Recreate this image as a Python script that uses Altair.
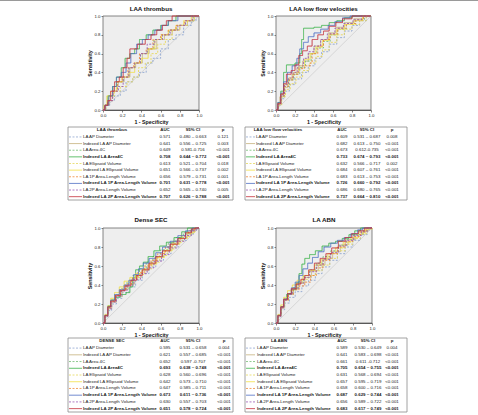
import altair as alt
import pandas as pd

FONT = "Liberation Sans"
W, H = 478, 415

# ---- series shared by all four panels -------------------------------------
SERIES = [
    "LA AP Diameter",
    "Indexed LA AP Diameter",
    "LA Area 4C",
    "Indexed LA Area4C",
    "LA Ellipsoid Volume",
    "Indexed LA Ellipsoid Volume",
    "LA 1P Area-Length Volume",
    "Indexed LA 1P Area-Length Volume",
    "LA 2P Area-Length Volume",
    "Indexed LA 2P Area-Length Volume",
]
SERIES_COLORS = ["#8fa6d0", "#c6b27c", "#72bd72", "#3bb34a", "#e6d85c",
                 "#f2df45", "#f08a3a", "#4f6fc4", "#9b5bb5", "#c4303b"]
SERIES_DASH = [[2, 1.5], [1, 0], [2, 1.5], [1, 0], [2, 1.5],
               [1, 0], [2, 1.5], [1, 0], [2, 1.5], [1, 0]]
BOLD_ROWS = [0, 0, 0, 1, 0, 0, 0, 1, 0, 1]
AXIS_TICKS = [0.0, 0.2, 0.4, 0.6, 0.8, 1.0]

# ---- ROC step vertices [1 - specificity, sensitivity] ----------------------
THROMBUS_CURVES = {
    "LA AP Diameter": [[0, 0], [0.03, 0.05], [0.07, 0.1], [0.12, 0.15], [0.18, 0.2], [0.24, 0.3], [0.31, 0.35], [0.38, 0.4], [0.45, 0.5], [0.52, 0.55], [0.6, 0.65], [0.68, 0.75], [0.76, 0.8], [0.84, 0.9], [0.92, 0.95], [0.97, 1], [1, 1]],
    "Indexed LA AP Diameter": [[0, 0], [0.02, 0.05], [0.06, 0.15], [0.11, 0.25], [0.16, 0.3], [0.22, 0.35], [0.28, 0.45], [0.34, 0.5], [0.41, 0.6], [0.48, 0.65], [0.56, 0.75], [0.64, 0.8], [0.72, 0.85], [0.8, 0.9], [0.88, 0.95], [0.95, 1], [1, 1]],
    "LA Area 4C": [[0, 0], [0.02, 0.05], [0.05, 0.1], [0.1, 0.2], [0.15, 0.3], [0.21, 0.35], [0.27, 0.45], [0.33, 0.5], [0.39, 0.6], [0.46, 0.65], [0.53, 0.75], [0.61, 0.8], [0.69, 0.85], [0.77, 0.9], [0.86, 0.95], [0.94, 1], [1, 1]],
    "Indexed LA Area4C": [[0, 0], [0.02, 0.05], [0.05, 0.15], [0.1, 0.25], [0.14, 0.35], [0.19, 0.45], [0.23, 0.55], [0.28, 0.6], [0.33, 0.65], [0.38, 0.75], [0.45, 0.8], [0.52, 0.85], [0.6, 0.9], [0.68, 0.95], [0.76, 1], [1, 1]],
    "LA Ellipsoid Volume": [[0, 0], [0.03, 0.05], [0.06, 0.15], [0.12, 0.2], [0.18, 0.25], [0.25, 0.3], [0.31, 0.35], [0.37, 0.45], [0.44, 0.5], [0.5, 0.6], [0.57, 0.7], [0.65, 0.75], [0.72, 0.85], [0.8, 0.9], [0.88, 0.95], [0.95, 1], [1, 1]],
    "Indexed LA Ellipsoid Volume": [[0, 0], [0.01, 0.05], [0.04, 0.15], [0.08, 0.2], [0.14, 0.3], [0.2, 0.35], [0.27, 0.4], [0.33, 0.5], [0.4, 0.55], [0.47, 0.65], [0.54, 0.75], [0.61, 0.8], [0.68, 0.85], [0.76, 0.9], [0.84, 0.95], [0.92, 1], [1, 1]],
    "LA 1P Area-Length Volume": [[0, 0], [0.02, 0.05], [0.06, 0.1], [0.1, 0.2], [0.15, 0.3], [0.2, 0.35], [0.26, 0.45], [0.32, 0.5], [0.38, 0.6], [0.45, 0.65], [0.52, 0.75], [0.6, 0.8], [0.68, 0.85], [0.76, 0.9], [0.85, 0.95], [0.93, 1], [1, 1]],
    "Indexed LA 1P Area-Length Volume": [[0, 0], [0.02, 0.05], [0.06, 0.15], [0.1, 0.25], [0.14, 0.35], [0.19, 0.4], [0.24, 0.5], [0.29, 0.6], [0.35, 0.7], [0.41, 0.75], [0.47, 0.8], [0.54, 0.85], [0.61, 0.9], [0.68, 0.95], [0.78, 1], [1, 1]],
    "LA 2P Area-Length Volume": [[0, 0], [0.02, 0.05], [0.05, 0.1], [0.1, 0.2], [0.16, 0.25], [0.21, 0.35], [0.27, 0.45], [0.33, 0.5], [0.39, 0.6], [0.46, 0.7], [0.54, 0.75], [0.62, 0.8], [0.7, 0.85], [0.78, 0.9], [0.86, 0.95], [0.93, 1], [1, 1]],
    "Indexed LA 2P Area-Length Volume": [[0, 0], [0.02, 0.05], [0.05, 0.1], [0.08, 0.2], [0.12, 0.3], [0.17, 0.35], [0.21, 0.45], [0.25, 0.55], [0.28, 0.65], [0.36, 0.7], [0.44, 0.75], [0.5, 0.8], [0.56, 0.85], [0.62, 0.9], [0.66, 0.95], [0.72, 1], [1, 1]],
}
LOWFLOW_CURVES = {
    "LA AP Diameter": [[0, 0], [0.02, 0.05], [0.05, 0.12], [0.09, 0.2], [0.14, 0.27], [0.2, 0.33], [0.27, 0.4], [0.34, 0.47], [0.41, 0.55], [0.48, 0.62], [0.56, 0.7], [0.64, 0.77], [0.72, 0.84], [0.8, 0.9], [0.88, 0.95], [0.95, 1], [1, 1]],
    "Indexed LA AP Diameter": [[0, 0], [0.02, 0.06], [0.04, 0.14], [0.08, 0.24], [0.12, 0.32], [0.17, 0.38], [0.22, 0.45], [0.28, 0.52], [0.34, 0.6], [0.4, 0.68], [0.47, 0.75], [0.55, 0.82], [0.63, 0.88], [0.72, 0.93], [0.82, 0.97], [0.92, 1], [1, 1]],
    "LA Area 4C": [[0, 0], [0.02, 0.06], [0.05, 0.15], [0.09, 0.25], [0.14, 0.32], [0.19, 0.38], [0.25, 0.45], [0.31, 0.52], [0.37, 0.6], [0.43, 0.66], [0.5, 0.73], [0.57, 0.8], [0.65, 0.86], [0.74, 0.92], [0.84, 0.96], [0.93, 1], [1, 1]],
    "Indexed LA Area4C": [[0, 0], [0.02, 0.08], [0.05, 0.2], [0.08, 0.4], [0.11, 0.48], [0.2, 0.5], [0.25, 0.6], [0.27, 0.75], [0.29, 0.87], [0.4, 0.88], [0.48, 0.9], [0.56, 0.93], [0.64, 0.95], [0.72, 0.98], [0.8, 1], [1, 1]],
    "LA Ellipsoid Volume": [[0, 0], [0.02, 0.05], [0.06, 0.14], [0.1, 0.22], [0.15, 0.28], [0.21, 0.35], [0.28, 0.42], [0.35, 0.5], [0.42, 0.57], [0.49, 0.64], [0.56, 0.72], [0.64, 0.8], [0.72, 0.86], [0.8, 0.91], [0.88, 0.95], [0.95, 1], [1, 1]],
    "Indexed LA Ellipsoid Volume": [[0, 0], [0.02, 0.07], [0.05, 0.17], [0.09, 0.27], [0.13, 0.34], [0.18, 0.4], [0.24, 0.47], [0.3, 0.54], [0.36, 0.6], [0.42, 0.67], [0.49, 0.74], [0.56, 0.8], [0.64, 0.86], [0.72, 0.91], [0.82, 0.95], [0.91, 1], [1, 1]],
    "LA 1P Area-Length Volume": [[0, 0], [0.02, 0.06], [0.05, 0.15], [0.09, 0.25], [0.13, 0.32], [0.18, 0.38], [0.24, 0.44], [0.3, 0.47], [0.36, 0.5], [0.38, 0.6], [0.44, 0.68], [0.5, 0.75], [0.57, 0.81], [0.65, 0.87], [0.74, 0.92], [0.84, 0.96], [0.92, 1], [1, 1]],
    "Indexed LA 1P Area-Length Volume": [[0, 0], [0.02, 0.08], [0.05, 0.18], [0.08, 0.3], [0.12, 0.4], [0.17, 0.47], [0.22, 0.55], [0.25, 0.65], [0.29, 0.72], [0.34, 0.78], [0.4, 0.82], [0.47, 0.86], [0.55, 0.9], [0.62, 0.94], [0.7, 0.98], [0.78, 1], [1, 1]],
    "LA 2P Area-Length Volume": [[0, 0], [0.02, 0.06], [0.05, 0.16], [0.09, 0.27], [0.13, 0.34], [0.18, 0.4], [0.23, 0.47], [0.29, 0.55], [0.34, 0.62], [0.4, 0.68], [0.47, 0.75], [0.54, 0.81], [0.62, 0.87], [0.71, 0.92], [0.81, 0.96], [0.9, 1], [1, 1]],
    "Indexed LA 2P Area-Length Volume": [[0, 0], [0.02, 0.07], [0.05, 0.17], [0.08, 0.28], [0.11, 0.38], [0.16, 0.42], [0.2, 0.48], [0.24, 0.58], [0.28, 0.63], [0.33, 0.68], [0.38, 0.75], [0.44, 0.8], [0.5, 0.84], [0.56, 0.89], [0.63, 0.93], [0.7, 0.97], [0.8, 1], [1, 1]],
}
DENSE_CURVES = {
    "LA AP Diameter": [[0, 0], [0.02, 0.06], [0.05, 0.13], [0.09, 0.2], [0.14, 0.26], [0.2, 0.32], [0.27, 0.38], [0.34, 0.45], [0.41, 0.52], [0.48, 0.59], [0.55, 0.66], [0.63, 0.73], [0.71, 0.8], [0.79, 0.87], [0.87, 0.93], [0.94, 0.98], [0.98, 1], [1, 1]],
    "Indexed LA AP Diameter": [[0, 0], [0.02, 0.07], [0.05, 0.15], [0.09, 0.22], [0.14, 0.28], [0.2, 0.35], [0.26, 0.41], [0.33, 0.48], [0.4, 0.55], [0.47, 0.62], [0.54, 0.69], [0.62, 0.76], [0.7, 0.83], [0.78, 0.89], [0.86, 0.94], [0.93, 0.98], [0.97, 1], [1, 1]],
    "LA Area 4C": [[0, 0], [0.02, 0.08], [0.05, 0.17], [0.08, 0.24], [0.13, 0.3], [0.19, 0.36], [0.25, 0.43], [0.31, 0.5], [0.38, 0.57], [0.45, 0.64], [0.52, 0.7], [0.6, 0.77], [0.68, 0.84], [0.76, 0.9], [0.84, 0.95], [0.92, 0.99], [0.96, 1], [1, 1]],
    "Indexed LA Area4C": [[0, 0], [0.02, 0.08], [0.05, 0.18], [0.08, 0.24], [0.12, 0.27], [0.18, 0.3], [0.24, 0.32], [0.28, 0.38], [0.31, 0.48], [0.34, 0.56], [0.38, 0.6], [0.42, 0.64], [0.47, 0.7], [0.53, 0.76], [0.59, 0.81], [0.66, 0.85], [0.74, 0.9], [0.82, 0.96], [0.88, 1], [1, 1]],
    "LA Ellipsoid Volume": [[0, 0], [0.02, 0.08], [0.05, 0.16], [0.09, 0.24], [0.13, 0.3], [0.18, 0.36], [0.24, 0.41], [0.3, 0.46], [0.37, 0.51], [0.44, 0.57], [0.51, 0.64], [0.59, 0.71], [0.67, 0.78], [0.75, 0.85], [0.83, 0.91], [0.91, 0.96], [0.96, 1], [1, 1]],
    "Indexed LA Ellipsoid Volume": [[0, 0], [0.02, 0.09], [0.05, 0.18], [0.08, 0.26], [0.12, 0.32], [0.17, 0.38], [0.22, 0.44], [0.28, 0.48], [0.34, 0.52], [0.41, 0.57], [0.48, 0.62], [0.56, 0.69], [0.64, 0.76], [0.72, 0.83], [0.8, 0.89], [0.88, 0.95], [0.95, 1], [1, 1]],
    "LA 1P Area-Length Volume": [[0, 0], [0.02, 0.07], [0.05, 0.16], [0.08, 0.23], [0.13, 0.29], [0.18, 0.35], [0.24, 0.41], [0.3, 0.47], [0.36, 0.53], [0.43, 0.6], [0.5, 0.66], [0.57, 0.73], [0.65, 0.8], [0.73, 0.86], [0.81, 0.92], [0.89, 0.97], [0.95, 1], [1, 1]],
    "Indexed LA 1P Area-Length Volume": [[0, 0], [0.02, 0.08], [0.05, 0.17], [0.08, 0.24], [0.12, 0.3], [0.17, 0.35], [0.22, 0.4], [0.27, 0.45], [0.32, 0.51], [0.37, 0.57], [0.42, 0.63], [0.48, 0.68], [0.55, 0.74], [0.62, 0.8], [0.7, 0.86], [0.78, 0.92], [0.86, 0.97], [0.93, 1], [1, 1]],
    "LA 2P Area-Length Volume": [[0, 0], [0.02, 0.07], [0.05, 0.15], [0.09, 0.22], [0.14, 0.28], [0.19, 0.34], [0.25, 0.4], [0.32, 0.46], [0.39, 0.52], [0.46, 0.58], [0.53, 0.65], [0.61, 0.72], [0.69, 0.79], [0.77, 0.86], [0.85, 0.92], [0.92, 0.97], [0.97, 1], [1, 1]],
    "Indexed LA 2P Area-Length Volume": [[0, 0], [0.02, 0.08], [0.05, 0.17], [0.08, 0.23], [0.13, 0.29], [0.18, 0.34], [0.23, 0.39], [0.29, 0.45], [0.35, 0.5], [0.41, 0.56], [0.48, 0.63], [0.55, 0.7], [0.62, 0.76], [0.7, 0.83], [0.78, 0.89], [0.86, 0.95], [0.92, 0.99], [0.96, 1], [1, 1]],
}
ABN_CURVES = {
    "LA AP Diameter": [[0, 0], [0.02, 0.06], [0.05, 0.14], [0.09, 0.21], [0.14, 0.27], [0.2, 0.33], [0.27, 0.39], [0.34, 0.45], [0.41, 0.52], [0.48, 0.59], [0.56, 0.66], [0.64, 0.73], [0.72, 0.8], [0.8, 0.87], [0.88, 0.93], [0.95, 0.98], [0.98, 1], [1, 1]],
    "Indexed LA AP Diameter": [[0, 0], [0.02, 0.07], [0.05, 0.16], [0.09, 0.24], [0.13, 0.3], [0.18, 0.36], [0.24, 0.42], [0.3, 0.48], [0.37, 0.55], [0.44, 0.61], [0.51, 0.68], [0.59, 0.75], [0.67, 0.82], [0.75, 0.88], [0.83, 0.93], [0.91, 0.97], [0.96, 1], [1, 1]],
    "LA Area 4C": [[0, 0], [0.02, 0.08], [0.05, 0.17], [0.08, 0.25], [0.13, 0.31], [0.18, 0.37], [0.23, 0.43], [0.29, 0.5], [0.35, 0.56], [0.42, 0.63], [0.49, 0.7], [0.57, 0.76], [0.65, 0.82], [0.73, 0.88], [0.81, 0.93], [0.9, 0.97], [0.95, 1], [1, 1]],
    "Indexed LA Area4C": [[0, 0], [0.02, 0.08], [0.05, 0.17], [0.08, 0.25], [0.11, 0.3], [0.16, 0.35], [0.21, 0.42], [0.24, 0.52], [0.27, 0.62], [0.3, 0.68], [0.35, 0.72], [0.41, 0.76], [0.48, 0.81], [0.55, 0.84], [0.62, 0.86], [0.69, 0.89], [0.76, 0.93], [0.82, 0.97], [0.88, 1], [1, 1]],
    "LA Ellipsoid Volume": [[0, 0], [0.02, 0.08], [0.05, 0.17], [0.08, 0.25], [0.12, 0.31], [0.17, 0.37], [0.22, 0.42], [0.28, 0.46], [0.34, 0.5], [0.41, 0.55], [0.48, 0.61], [0.56, 0.68], [0.64, 0.76], [0.72, 0.83], [0.8, 0.89], [0.88, 0.94], [0.95, 0.99], [1, 1]],
    "Indexed LA Ellipsoid Volume": [[0, 0], [0.02, 0.09], [0.05, 0.19], [0.08, 0.27], [0.12, 0.34], [0.17, 0.4], [0.22, 0.45], [0.28, 0.5], [0.34, 0.55], [0.4, 0.61], [0.47, 0.67], [0.54, 0.73], [0.62, 0.79], [0.7, 0.85], [0.78, 0.9], [0.86, 0.95], [0.93, 0.99], [1, 1]],
    "LA 1P Area-Length Volume": [[0, 0], [0.02, 0.07], [0.05, 0.16], [0.08, 0.24], [0.13, 0.3], [0.18, 0.35], [0.24, 0.39], [0.3, 0.43], [0.36, 0.5], [0.42, 0.58], [0.49, 0.66], [0.56, 0.73], [0.64, 0.8], [0.72, 0.86], [0.8, 0.91], [0.88, 0.96], [0.94, 1], [1, 1]],
    "Indexed LA 1P Area-Length Volume": [[0, 0], [0.02, 0.08], [0.05, 0.17], [0.08, 0.25], [0.12, 0.31], [0.16, 0.37], [0.2, 0.43], [0.24, 0.5], [0.28, 0.57], [0.33, 0.63], [0.38, 0.69], [0.44, 0.75], [0.5, 0.8], [0.57, 0.84], [0.64, 0.87], [0.71, 0.9], [0.78, 0.94], [0.85, 0.98], [0.9, 1], [1, 1]],
    "LA 2P Area-Length Volume": [[0, 0], [0.02, 0.07], [0.05, 0.16], [0.08, 0.24], [0.12, 0.3], [0.17, 0.36], [0.23, 0.42], [0.29, 0.48], [0.35, 0.54], [0.42, 0.61], [0.49, 0.67], [0.57, 0.74], [0.65, 0.81], [0.73, 0.87], [0.81, 0.92], [0.89, 0.96], [0.95, 1], [1, 1]],
    "Indexed LA 2P Area-Length Volume": [[0, 0], [0.02, 0.08], [0.05, 0.17], [0.08, 0.25], [0.12, 0.31], [0.16, 0.36], [0.21, 0.41], [0.26, 0.46], [0.3, 0.5], [0.34, 0.56], [0.4, 0.63], [0.46, 0.68], [0.52, 0.73], [0.58, 0.79], [0.65, 0.86], [0.72, 0.9], [0.79, 0.94], [0.86, 0.97], [0.92, 1], [1, 1]],
}

# ---- AUC tables ------------------------------------------------------------
THROMBUS_AUC = ["0.571", "0.641", "0.649", "0.708", "0.613", "0.651", "0.656", "0.701", "0.652", "0.707"]
THROMBUS_CI = ["0.480 – 0.663", "0.556 – 0.725", "0.581-0.716", "0.644 – 0.772", "0.521 – 0.704",
               "0.566 – 0.737", "0.579 – 0.731", "0.631 – 0.778", "0.565 – 0.740", "0.626 – 0.788"]
THROMBUS_P = ["0.121", "0.003", "<0.001", "<0.001", "0.018", "0.002", "0.001", "<0.001", "0.005", "<0.001"]

LOWFLOW_AUC = ["0.609", "0.682", "0.673", "0.733", "0.632", "0.684", "0.683", "0.726", "0.686", "0.737"]
LOWFLOW_CI = ["0.531 – 0.687", "0.613 – 0.750", "0.612-0.735", "0.674 – 0.793", "0.566 – 0.717",
              "0.607 – 0.761", "0.613 – 0.753", "0.660 – 0.792", "0.680 – 0.765", "0.664 – 0.810"]
LOWFLOW_P = ["0.008", "<0.001", "<0.001", "<0.001", "0.002", "<0.001", "<0.001", "<0.001", "<0.001", "<0.001"]

DENSE_AUC = ["0.595", "0.621", "0.652", "0.693", "0.628", "0.642", "0.647", "0.673", "0.630", "0.651"]
DENSE_CI = ["0.531 – 0.658", "0.557 – 0.685", "0.597 -0.707", "0.638 – 0.748", "0.560 – 0.696",
            "0.573 – 0.710", "0.585 – 0.711", "0.611 – 0.736", "0.557 – 0.703", "0.578 – 0.724"]
DENSE_P = ["0.004", "<0.001", "<0.001", "<0.001", "<0.001", "<0.001", "<0.001", "<0.001", "<0.001", "<0.001"]

ABN_AUC = ["0.589", "0.641", "0.661", "0.705", "0.631", "0.657", "0.658", "0.687", "0.656", "0.683"]
ABN_CI = ["0.530 – 0.649", "0.583 – 0.698", "0.611 -0.712", "0.654 – 0.755", "0.568 – 0.694",
          "0.595 – 0.719", "0.600 – 0.716", "0.629 – 0.744", "0.589 – 0.722", "0.617 – 0.749"]
ABN_P = ["0.004", "<0.001", "<0.001", "<0.001", "<0.001", "<0.001", "<0.001", "<0.001", "<0.001", "<0.001"]

DUMMY = pd.DataFrame({"v": [0]})
COLOR_SCALE = alt.Scale(domain=SERIES, range=SERIES_COLORS)
DASH_SCALE = alt.Scale(domain=SERIES, range=SERIES_DASH)


def roc_layers(title, curves, box, title_y):
    """Frame, chance diagonal, step ROC curves and a heading for one panel."""
    x0, x1, y0, y1 = box
    xs = alt.Scale(domain=[0, 1], range=[x0, x1], nice=False, zero=False)
    ys = alt.Scale(domain=[0, 1], range=[y1, y0], nice=False, zero=False)
    x_axis = alt.Axis(values=AXIS_TICKS, format=".1f", title="1 - Specificity", orient="bottom",
                      offset=y1 - H, labelFlush=False, labelOverlap=False)
    y_axis = alt.Axis(values=AXIS_TICKS, format=".1f", title="Sensitivity", orient="left",
                      offset=-x0, labelFlush=False, labelOverlap=False)
    rows = []
    for name in SERIES:
        for i, (fx, ty) in enumerate(curves[name]):
            rows.append({"series": name, "i": i, "fpr": fx, "tpr": ty})
    df = pd.DataFrame(rows)

    frame = alt.Chart(pd.DataFrame({"a": [0], "b": [1]})).mark_rect(
        fill="#eeeeee", stroke="#555", strokeWidth=0.7
    ).encode(x=alt.X("a:Q", scale=xs, axis=x_axis), x2="b:Q",
             y=alt.Y("a:Q", scale=ys, axis=y_axis), y2="b:Q")
    diag = alt.Chart(pd.DataFrame({"fpr": [0, 1], "tpr": [0, 1]})).mark_line(
        color="#cfcfcf", strokeWidth=0.8
    ).encode(x=alt.X("fpr:Q", scale=xs, axis=None), y=alt.Y("tpr:Q", scale=ys, axis=None))
    lines = alt.Chart(df).mark_line(interpolate="step-after", strokeWidth=0.9).encode(
        x=alt.X("fpr:Q", scale=xs, axis=None),
        y=alt.Y("tpr:Q", scale=ys, axis=None),
        color=alt.Color("series:N", scale=COLOR_SCALE, legend=None),
        strokeDash=alt.StrokeDash("series:N", scale=DASH_SCALE, legend=None),
        order="i:Q",
    )
    heading = alt.Chart(pd.DataFrame({"label": [title]})).mark_text(
        fontSize=6.2, fontWeight="bold", font=FONT, color="#111111", fill="#111111",
        baseline="middle",
    ).encode(x=alt.value((x0 + x1) / 2), y=alt.value(title_y), text="label:N")
    return [frame, diag, lines, heading]


def table_layers(header, auc, ci, p, box, sample_end, name_x, head_x, auc_x, ci_x, p_x):
    """Bordered AUC table with line-style keys on the left."""
    tx0, tx1, ty0, ty1 = box
    df = pd.DataFrame({
        "row": list(range(1, 11)), "series": SERIES, "name": SERIES,
        "auc": auc, "ci": ci, "p": p, "bold": BOLD_ROWS,
    })
    row_scale = alt.Scale(domain=[-0.5, 10.5], range=[ty0, ty1], nice=False, zero=False)
    y_enc = alt.Y("row:Q", scale=row_scale, axis=None)
    out = [
        alt.Chart(DUMMY).mark_rect(fill="white", stroke="#8a8a8a", strokeWidth=0.8).encode(
            x=alt.value(tx0), x2=alt.value(tx1), y=alt.value(ty0), y2=alt.value(ty1)),
        alt.Chart(df).mark_rule(strokeWidth=0.8).encode(
            x=alt.value(tx0 + 1), x2=alt.value(sample_end), y=y_enc,
            color=alt.Color("series:N", scale=COLOR_SCALE, legend=None),
            strokeDash=alt.StrokeDash("series:N", scale=DASH_SCALE, legend=None)),
    ]
    cols = [("name", name_x, "left"), ("auc", auc_x, "center"), ("ci", ci_x, "center"), ("p", p_x, "center")]
    for field, xpos, align in cols:
        for flag, weight in [(0, "normal"), (1, "bold")]:
            out.append(
                alt.Chart(df).transform_filter(alt.datum.bold == flag).mark_text(
                    align=align, baseline="middle", fontSize=4.4, font=FONT,
                    fontWeight=weight, fill="#222222",
                ).encode(x=alt.value(xpos), y=y_enc, text=f"{field}:N")
            )
    for label, xpos in [(header, head_x), ("AUC", auc_x), ("95% CI", ci_x), ("p", p_x)]:
        out.append(
            alt.Chart(pd.DataFrame({"row": [0], "label": [label]})).mark_text(
                align="center", baseline="middle", fontSize=4.4, font=FONT,
                fontWeight="bold", fill="#222222",
            ).encode(x=alt.value(xpos), y=y_enc, text="label:N")
        )
    return out


layers = [
    alt.Chart(DUMMY).mark_rule(color="#9a9a9a", strokeWidth=1).encode(
        x=alt.value(0), x2=alt.value(W), y=alt.value(0.5))
]
layers += roc_layers("LAA thrombus", THROMBUS_CURVES, (103, 199, 16, 110), 9)
layers += roc_layers("LAA low flow velocities", LOWFLOW_CURVES, (276, 371, 16, 110), 9)
layers += roc_layers("Dense SEC", DENSE_CURVES, (103, 199, 228, 323), 220)
layers += roc_layers("LA ABN", ABN_CURVES, (276, 372, 228, 323), 220)
layers += table_layers("LAA thrombus", THROMBUS_AUC, THROMBUS_CI, THROMBUS_P,
                       (68, 233, 127, 200), 82, 83, 112, 165, 193, 223)
layers += table_layers("LAA low flow velocities", LOWFLOW_AUC, LOWFLOW_CI, LOWFLOW_P,
                       (245, 407, 127, 200), 255, 256, 278, 342, 367, 392)
layers += table_layers("DENSE SEC", DENSE_AUC, DENSE_CI, DENSE_P,
                       (68, 233, 338, 412), 82, 83, 112, 165, 193, 224)
layers += table_layers("LA ABN", ABN_AUC, ABN_CI, ABN_P,
                       (245, 407, 338, 412), 255, 257, 279, 342, 368, 392)

chart = alt.layer(*layers).resolve_scale(
    x="independent", y="independent"
).resolve_axis(
    x="independent", y="independent"
).properties(
    width=W, height=H, padding=0, background="white",
    autosize=alt.AutoSizeParams(type="none"),
).configure_view(strokeWidth=0).configure_axis(
    labelFont=FONT, labelFontSize=4.3, labelColor="#222", labelPadding=1,
    tickSize=2, tickColor="#333", tickWidth=0.6, domainColor="#333", domainWidth=0.8,
    titleFont=FONT, titleFontSize=5.3, titleFontWeight="bold", titleColor="#111",
    titlePadding=2, grid=False,
)

chart.save("out.html", embed_options={"renderer": "svg", "actions": False})
